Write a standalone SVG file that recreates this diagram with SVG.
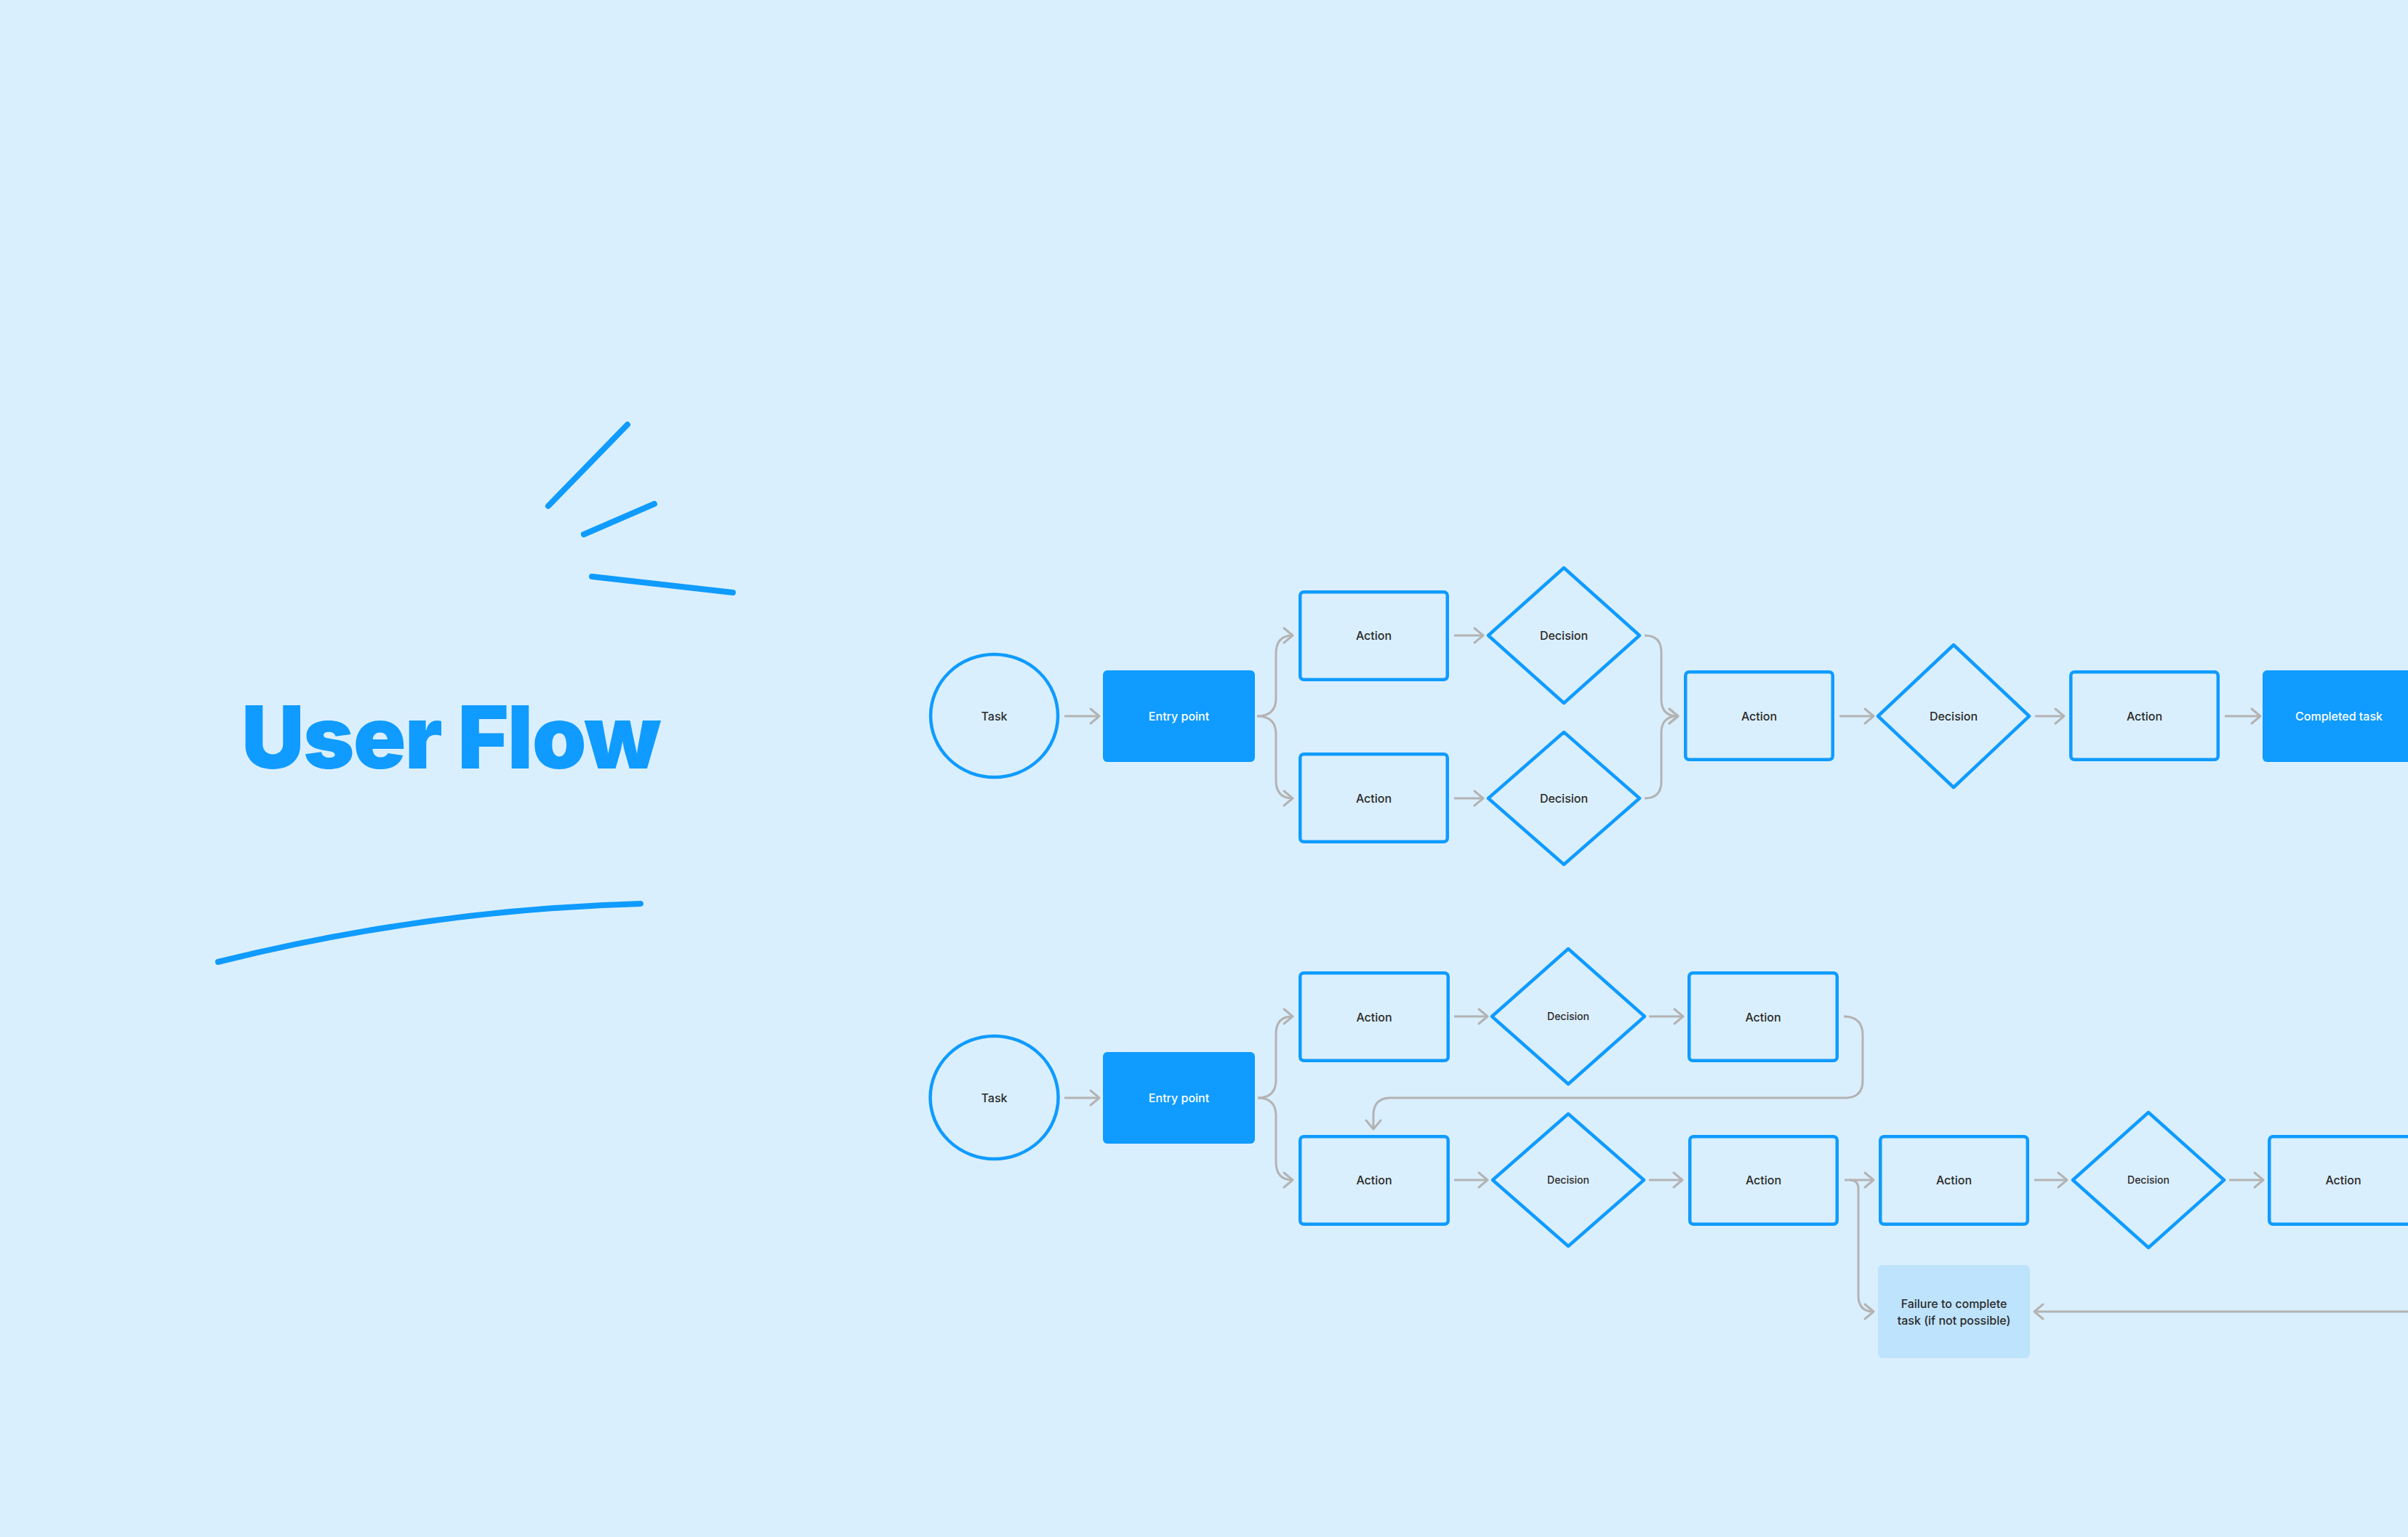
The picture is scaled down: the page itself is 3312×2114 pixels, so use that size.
<svg xmlns="http://www.w3.org/2000/svg" width="3312" height="2114" viewBox="0 0 3312 2114">
<style>
.bg{fill:#DAEFFD}
.box{fill:none;stroke:#0F9BFF;stroke-width:4.5}
.dia{fill:none;stroke:#0F9BFF;stroke-width:4.5;stroke-linejoin:round}
.circ{fill:none;stroke:#0F9BFF;stroke-width:4.5}
.fill{fill:#0F9BFF}
.fail{fill:#BEE3FC}
.lbl{font-family:Inter,"Noto Sans","Liberation Sans",sans-serif;font-size:16px;fill:#2B2B2B;text-anchor:middle;font-weight:500}
.sm{font-size:14px}
.wh{fill:#FFFFFF}
.con{fill:none;stroke:#B3B3B3;stroke-width:3}
.deco{fill:none;stroke:#0F9BFF;stroke-width:8;stroke-linecap:round}
.title{font-family:Inter,"Noto Sans","Liberation Sans",sans-serif;font-size:120px;font-weight:900;fill:#0F9BFF}
</style>
<defs>
<marker id="arr" markerUnits="userSpaceOnUse" markerWidth="30" markerHeight="30" viewBox="-15 -15 30 30" refX="0" refY="0" orient="auto" overflow="visible">
<path d="M-12,-10 L0,0 L-12,10" fill="none" stroke="#B3B3B3" stroke-width="3" stroke-linejoin="round" stroke-linecap="round"/>
</marker>
</defs>
<rect class="bg" x="0" y="0" width="3312" height="2114"/>

<g id="decoration">
<line class="deco" x1="754" y1="696" x2="863" y2="584"/>
<line class="deco" x1="803" y1="735" x2="900" y2="693"/>
<line class="deco" x1="814" y1="793" x2="1008" y2="815"/>
<path class="deco" d="M300,1323 Q590,1251 881,1243"/>
</g>
<g id="title">
<text class="title" x="332" y="1057" textLength="577" lengthAdjust="spacing">User Flow</text>
</g>

<g id="connectors">
<!-- row 1 -->
<path class="con" d="M1464,985 H1512" marker-end="url(#arr)"/>
<path class="con" d="M1729,985 Q1755,985 1755,960 V899 Q1755,874 1778,874" marker-end="url(#arr)"/>
<path class="con" d="M1729,985 Q1755,985 1755,1010 V1073 Q1755,1098 1778,1098" marker-end="url(#arr)"/>
<path class="con" d="M2000,874 H2040" marker-end="url(#arr)"/>
<path class="con" d="M2000,1098 H2040" marker-end="url(#arr)"/>
<path class="con" d="M2262,874 Q2285,874 2285,897 V962 Q2285,985 2308,985" marker-end="url(#arr)"/>
<path class="con" d="M2262,1098 Q2285,1098 2285,1075 V1008 Q2285,985 2308,985" marker-end="url(#arr)"/>
<path class="con" d="M2530,985 H2577" marker-end="url(#arr)"/>
<path class="con" d="M2799,985 H2839" marker-end="url(#arr)"/>
<path class="con" d="M3060,985 H3109" marker-end="url(#arr)"/>
<!-- row 2 -->
<path class="con" d="M1464,1510 H1512" marker-end="url(#arr)"/>
<path class="con" d="M1730,1510 Q1755,1510 1755,1485 V1422 Q1755,1398 1778,1398" marker-end="url(#arr)"/>
<path class="con" d="M1730,1510 Q1755,1510 1755,1535 V1598 Q1755,1623 1778,1623" marker-end="url(#arr)"/>
<path class="con" d="M2000,1398 H2046" marker-end="url(#arr)"/>
<path class="con" d="M2268,1398 H2315" marker-end="url(#arr)"/>
<path class="con" d="M2536,1398 Q2562,1398 2562,1424 V1486 Q2562,1510 2538,1510 H1913 Q1889,1510 1889,1534 V1553" marker-end="url(#arr)"/>
<path class="con" d="M2000,1623 H2046" marker-end="url(#arr)"/>
<path class="con" d="M2268,1623 H2314" marker-end="url(#arr)"/>
<path class="con" d="M2537,1623 H2577" marker-end="url(#arr)"/>
<path class="con" d="M2544,1623 Q2556,1623 2556,1635 V1782 Q2556,1804 2577,1804" marker-end="url(#arr)"/>
<path class="con" d="M2798,1623 H2843" marker-end="url(#arr)"/>
<path class="con" d="M3066,1623 H3113" marker-end="url(#arr)"/>
<path class="con" d="M3312,1804 H2798" marker-end="url(#arr)"/>
</g>

<!-- Row 1 nodes -->
<g id="task1"><ellipse class="circ" cx="1367.5" cy="984.5" rx="87.5" ry="84.5"/><text class="lbl" x="1367.5" y="990.5">Task</text></g>
<g id="entry1"><rect class="fill" x="1517" y="922" width="209" height="126" rx="6"/><text class="lbl wh" x="1621.5" y="991">Entry point</text></g>
<g id="action1a"><rect class="box" x="1788.25" y="814.25" width="202.5" height="120.5" rx="5"/><text class="lbl" x="1889.5" y="880">Action</text></g>
<g id="action1b"><rect class="box" x="1788.25" y="1037.25" width="202.5" height="120.5" rx="5"/><text class="lbl" x="1889.5" y="1103.5">Action</text></g>
<g id="decision1a"><polygon class="dia" points="2151,781 2255,874 2151,967 2047,874"/><text class="lbl" x="2151" y="880">Decision</text></g>
<g id="decision1b"><polygon class="dia" points="2151,1007 2255,1098 2151,1189 2047,1098"/><text class="lbl" x="2151" y="1104">Decision</text></g>
<g id="action1c"><rect class="box" x="2318.25" y="924.25" width="202.5" height="120.5" rx="5"/><text class="lbl" x="2419.5" y="991">Action</text></g>
<g id="decision1c"><polygon class="dia" points="2687,887 2791,985 2687,1083 2583,985"/><text class="lbl" x="2687" y="991">Decision</text></g>
<g id="action1d"><rect class="box" x="2848.25" y="924.25" width="202.5" height="120.5" rx="5"/><text class="lbl" x="2949.5" y="991">Action</text></g>
<g id="completed"><rect class="fill" x="3112" y="922" width="210" height="126" rx="6"/><text class="lbl wh" x="3217" y="991">Completed task</text></g>

<!-- Row 2 nodes -->
<g id="task2"><ellipse class="circ" cx="1367.5" cy="1509.5" rx="88" ry="84.5"/><text class="lbl" x="1367.5" y="1515.5">Task</text></g>
<g id="entry2"><rect class="fill" x="1517" y="1447" width="209" height="126" rx="6"/><text class="lbl wh" x="1621.5" y="1516">Entry point</text></g>
<g id="action2a"><rect class="box" x="1788.25" y="1338.25" width="203.5" height="120.5" rx="5"/><text class="lbl" x="1890" y="1404.5">Action</text></g>
<g id="decision2a"><polygon class="dia" points="2157,1305 2262,1398 2157,1491 2052,1398"/><text class="lbl sm" x="2157" y="1403">Decision</text></g>
<g id="action2b"><rect class="box" x="2323.25" y="1338.25" width="203.5" height="120.5" rx="5"/><text class="lbl" x="2425" y="1404.5">Action</text></g>
<g id="action2c"><rect class="box" x="1788.25" y="1563.25" width="203.5" height="120.5" rx="5"/><text class="lbl" x="1890" y="1629">Action</text></g>
<g id="decision2b"><polygon class="dia" points="2157,1532 2261,1623 2157,1714 2053,1623"/><text class="lbl sm" x="2157" y="1628">Decision</text></g>
<g id="action2d"><rect class="box" x="2324.25" y="1563.25" width="202.5" height="120.5" rx="5"/><text class="lbl" x="2425.5" y="1629">Action</text></g>
<g id="action2e"><rect class="box" x="2586.25" y="1563.25" width="202.5" height="120.5" rx="5"/><text class="lbl" x="2687.5" y="1629">Action</text></g>
<g id="decision2c"><polygon class="dia" points="2955,1530 3059,1623 2955,1716 2851,1623"/><text class="lbl sm" x="2955" y="1628">Decision</text></g>
<g id="action2f"><rect class="box" x="3121.25" y="1563.25" width="203.5" height="120.5" rx="5"/><text class="lbl" x="3223" y="1629">Action</text></g>
<g id="failure"><rect class="fail" x="2583" y="1740" width="209" height="128" rx="6"/><text class="lbl" x="2687.5" y="1798.5">Failure to complete</text><text class="lbl" x="2687.5" y="1821.5">task (if not possible)</text></g>
</svg>
